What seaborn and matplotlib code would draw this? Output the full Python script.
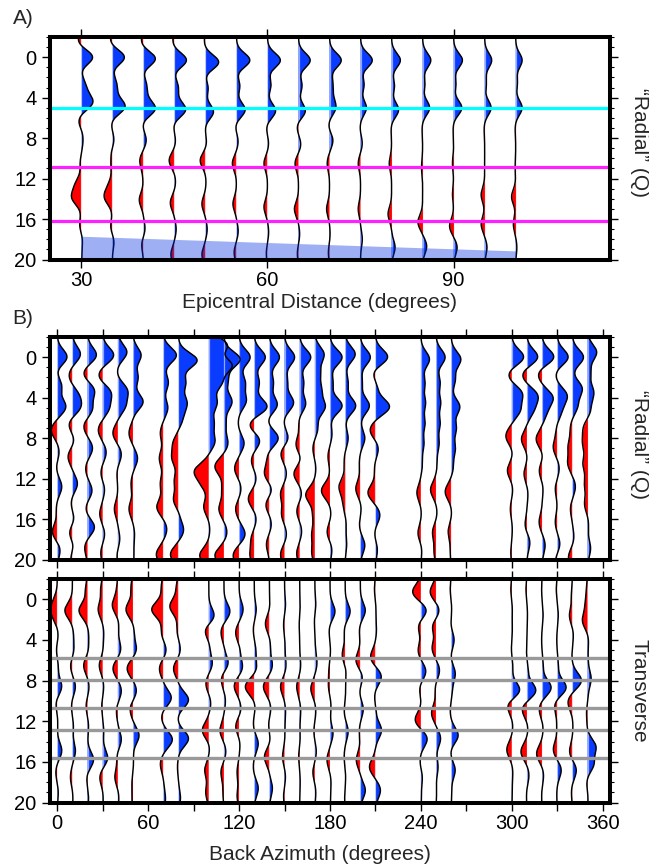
import numpy as np
import pandas as pd
import matplotlib
matplotlib.use("Agg")
import matplotlib.pyplot as plt
import seaborn as sns
from matplotlib.ticker import MultipleLocator, FixedLocator

sns.set_theme(style="ticks")
plt.rcParams['font.family'] = ['Liberation Sans', 'DejaVu Sans']

# ---------------- data ----------------
# Panel A: epicentral distance gather (pulse lists: (time s, relative amplitude))
A_DIST = [30, 35, 40, 45, 50, 55, 60, 65, 70, 75, 80, 85, 90, 95, 100]
A_PULSES = [
    [(-1.6,-0.3),(0,1.0),(1.3,-0.1),(2.4,0.2),(3.4,0.3),(4.5,0.9),(6.3,-0.25),(7.5,0.1),(8.5,0.1),(10.5,-0.1),(12.6,-0.45),(13.9,-0.75),(16.6,-0.15),(18.0,0.1),(19.5,0.05)],
    [(-1.6,-0.2),(0,1.05),(1.3,-0.05),(2.5,0.3),(3.6,0.25),(4.9,1.05),(6.5,-0.1),(8.2,0.15),(9.5,-0.1),(10.8,-0.1),(12.8,-0.3),(13.9,-0.6),(16.8,-0.15),(18.2,0.15)],
    [(-1.5,-0.2),(0.15,1.05),(1.5,-0.1),(2.6,0.25),(3.8,0.2),(5.1,1.0),(6.5,-0.1),(8.2,0.25),(10.2,-0.3),(11.5,-0.05),(14.1,-0.35),(17,0.15),(18.5,-0.15)],
    [(-1.5,-0.15),(0.3,1.05),(1.6,-0.1),(2.8,0.3),(3.9,0.15),(5.2,0.95),(6.6,-0.1),(8.3,0.1),(10.2,-0.45),(12.3,0.1),(14.4,-0.35),(17,0.15),(19.5,-0.3)],
    [(-1.5,-0.1),(0.5,1.15),(1.8,-0.1),(3.0,0.25),(5.4,0.7),(6.6,-0.05),(8.5,0.1),(10.2,-0.45),(12.3,0.05),(14.5,-0.3),(17,0.15),(19.5,-0.3)],
    [(0.3,1.15),(1.7,-0.05),(2.8,0.3),(5.2,0.75),(6.8,-0.1),(8.3,0.15),(10.5,-0.35),(14.5,-0.3),(17.2,0.15),(19.3,-0.2)],
    [(0.3,1.1),(2.7,0.3),(5.3,0.7),(6.9,-0.1),(8.5,0.1),(10.5,-0.3),(14.8,-0.3),(17.3,0.1),(19.4,-0.1)],
    [(0.3,1.0),(2.8,0.3),(5.3,0.6),(6.8,-0.15),(8.6,0.2),(10.5,-0.3),(15.0,-0.35),(17.5,0.1),(19.4,-0.1)],
    [(0.3,1.0),(2.5,0.25),(3.8,0.2),(5.0,0.5),(6.8,-0.1),(8.2,0.3),(10.5,-0.2),(15.0,-0.25),(17.5,0.05),(19.3,-0.1)],
    [(0.3,1.0),(2.7,0.3),(5.0,0.5),(7,-0.05),(8.5,0.15),(10.5,-0.2),(15.0,-0.2),(18,0.15)],
    [(0.3,0.75),(2.8,0.25),(5.2,0.6),(7,-0.05),(10.5,-0.2),(15.5,-0.3),(18.8,0.3)],
    [(0.3,0.7),(2.6,0.2),(5.0,0.6),(7,-0.05),(10.8,-0.1),(16.3,-0.4),(18.7,0.35)],
    [(0.3,0.75),(2.6,0.2),(5.0,0.7),(7,-0.05),(10.5,-0.1),(13.5,-0.1),(16.7,-0.35),(18.8,0.3)],
    [(0.3,0.6),(2.5,0.15),(5.0,0.55),(7,-0.05),(13.6,-0.3),(16.5,-0.3),(18.8,0.2)],
    [(0.3,0.55),(2.5,0.15),(5.0,0.55),(7,-0.05),(10.8,-0.05),(13.8,-0.35),(16.5,-0.2),(18.8,0.1)],
]
A_CYAN = [5.0]
A_MAGENTA = [10.86, 16.2]
A_SHADE_X = [30, 100]
A_SHADE_TOP = [17.7, 19.15]
A_XTICKS = [30, 60, 90]

# Panel B: back-azimuth gathers
B_BAZ = [0, 10, 20, 30, 40, 50, 70, 80, 100, 110, 120, 130, 140, 150, 160, 170,
         180, 190, 200, 210, 240, 250, 260, 300, 310, 320, 330, 340, 350]
RADIAL_PULSES = [
    [(0,1.0),(1.3,-0.15),(2.8,0.45),(4.9,0.85),(7.2,-0.6),(9.4,0.2),(10.8,-0.1),(12.8,0.45),(15,-0.1),(17.3,-0.5),(19,0.3)],
    [(-0.3,0.8),(1.8,-0.35),(3.8,0.55),(5.0,0.7),(6.6,-0.4),(8.2,0.2),(9.8,-0.45),(12.5,0.5),(14.5,-0.15),(16,0.2),(17.4,-0.35),(18.6,0.2),(19.7,-0.2)],
    [(-0.2,0.9),(1.6,-0.45),(3.3,0.7),(5.1,0.5),(6.8,-0.4),(9.0,0.5),(11,-0.2),(13.2,0.45),(15,-0.2),(16.8,0.7),(18.8,-0.3)],
    [(-0.2,1.1),(1.8,-0.45),(3.5,0.8),(5.0,0.6),(7.2,-0.45),(9.4,0.35),(11.5,-0.2),(13,0.2),(15.5,-0.3),(17.5,0.2),(19.3,-0.2)],
    [(-0.5,0.9),(1.5,-0.1),(3.3,0.9),(4.8,0.7),(7.5,-0.5),(9.6,0.35),(11.5,-0.1),(15,-0.35),(18,0.2),(19.5,-0.1)],
    [(-0.2,0.8),(2.0,0.5),(4.4,1.0),(7.5,-0.4),(10,0.45),(12.5,-0.2),(15,-0.4),(17.5,0.15),(19.5,0.1)],
    [(-0.2,1.3),(2.5,0.5),(5,0.45),(7.5,-0.3),(10,-0.4),(12.5,-0.3),(14.8,-0.65),(17,0.35),(19.5,-0.7)],
    [(0.3,1.85),(2.5,0.7),(4.5,0.8),(6,0.4),(8.5,-0.5),(10,-0.6),(12.2,-0.4),(14.1,-0.5),(15.5,0.1),(17.1,0.5),(19.5,-0.8)],
    [(-1.2,1.8),(0.8,2.2),(2.5,1.2),(4.5,0.8),(6.5,0.5),(8.3,0.6),(11.2,-1.3),(12.5,-0.6),(14.8,-0.5),(17,0.1),(19.6,-0.9)],
    [(0.2,1.6),(2.2,0.4),(4.4,0.8),(6.5,0.2),(8.5,0.4),(10.8,-0.9),(13,-0.2),(15,-0.5),(17.3,0.3),(19.6,-0.9)],
    [(0,1.1),(2.5,0.6),(4.3,0.7),(6.5,-0.1),(8.5,0.5),(11,-0.45),(13,0.2),(15,-0.35),(17.5,0.6),(19.6,-0.6)],
    [(0,1.1),(2.5,0.5),(4.9,1.3),(6.7,-0.55),(8.2,0.6),(10.2,-0.3),(12,0.2),(14,-0.6),(16,0.2),(18,-0.3),(19.6,-0.4)],
    [(0,1.0),(2.5,0.4),(4.7,0.8),(6.3,-0.2),(8,0.9),(9.8,-0.2),(11.5,-0.5),(13.2,0.3),(14.5,-0.4),(16.5,0.2),(18.5,-0.3)],
    [(0,1.0),(2.4,0.3),(4.5,0.9),(6.5,-0.1),(8,0.4),(9.5,-0.4),(11.5,0.2),(13.5,-0.4),(15.5,-0.3),(17.5,0.2),(19.5,-0.4)],
    [(0,1.1),(2.5,0.4),(4.6,0.6),(6.3,-0.1),(8.7,-0.4),(10,0.2),(11.5,-0.6),(13.5,0.2),(15.2,-0.3),(17.2,0.2),(19.4,-0.3)],
    [(-0.3,0.9),(1.5,0.5),(3.2,0.6),(4.9,1.0),(7,0.3),(9,-0.2),(11,0.1),(13.6,-0.9),(15.5,-0.2),(17.5,-0.3),(19.3,-0.3)],
    [(0,1.2),(2.5,0.3),(4.8,1.2),(7.6,0.2),(9.8,-0.2),(13.2,-0.85),(15.5,0.1),(17.3,-0.3),(19,0.2)],
    [(-0.3,1.0),(2.5,0.3),(4.8,1.05),(8,0.3),(10.3,-0.1),(12.8,-0.6),(14.5,-0.2),(16.5,0.1),(18.5,0.15)],
    [(0,1.0),(2.5,0.2),(4.8,0.9),(8,0.45),(10.5,-0.1),(13,-0.45),(15,0.1),(16.5,-0.1),(18.6,0.45)],
    [(0,1.25),(1.5,-0.3),(3,0.2),(4.9,1.4),(7.2,-0.55),(9,0.3),(11,-0.1),(13.4,-0.75),(15.6,0.45),(17.5,-0.1),(19,0.2)],
    [(0.2,0.85),(2.5,0.4),(4.5,0.45),(6.5,0.4),(8.5,0.3),(10.5,0.15),(13.4,-0.4),(15.5,0.05),(17.4,-0.3),(19,0.1)],
    [(0,0.9),(2.5,0.4),(4.5,0.45),(6.5,0.4),(8.5,0.3),(10.5,0.1),(13.1,-0.55),(15.4,0.1),(17.3,-0.35),(19.2,-0.2)],
    [(0.2,0.95),(2.2,0.4),(4.9,0.85),(7,0.5),(9,0.4),(10.8,0.2),(13.3,-0.6),(15.5,0.05),(17.2,-0.3),(19.2,-0.1)],
    [(0,1.2),(1.7,-0.4),(3.6,1.0),(5.2,0.8),(7.8,-0.6),(9.5,0.1),(11.2,-0.45),(13,0.1),(15,-0.15),(17,0.05),(19.3,-0.1)],
    [(0,1.1),(1.7,-0.5),(3.8,1.0),(5.2,0.6),(8.1,-0.55),(10,0.05),(11.5,-0.3),(13.5,0.1),(16.6,-0.2),(18.3,0.3)],
    [(0,1.2),(1.6,-0.45),(4.0,1.05),(5.5,0.4),(8.1,-0.6),(9.8,0.1),(11.2,-0.3),(13,0.1),(16.3,-0.3),(18.6,0.3)],
    [(0,1.1),(1.6,-0.2),(3.8,0.95),(5.3,0.4),(7.2,-0.1),(8.9,-0.4),(11,0.2),(13,-0.2),(16.3,-0.2),(18.6,0.3),(19.8,-0.2)],
    [(0,1.1),(3.1,0.95),(4.8,0.5),(7,-0.2),(8.8,-0.4),(10.5,-0.45),(12.8,0.3),(15,-0.2),(17.8,0.15),(19.8,-0.4)],
    [(-0.5,0.9),(1.5,0.3),(3.5,0.6),(5.2,0.3),(7,-0.4),(8.5,-0.45),(10.5,-0.45),(12.5,-0.3),(14.5,-0.3),(16.5,0.1),(18.9,0.3)],
]
TRANSVERSE_PULSES = [
    [(0.4,-0.4),(1.5,-0.45),(3.5,0.1),(5,-0.1),(6.5,0.1),(8.6,0.45),(10.2,-0.15),(12,0.05),(14.9,0.45),(17,-0.15),(19,0.1)],
    [(1.1,-0.75),(3.5,0.1),(5.0,0.15),(6.5,-0.2),(8.6,0.3),(10.5,-0.1),(12.5,0.1),(14.9,0.3),(17.5,-0.2),(19.5,0.05)],
    [(-1,-0.2),(1.1,-0.85),(3.5,0.1),(5.0,0.1),(6.5,-0.4),(8.6,0.15),(10.5,-0.15),(12.5,0.1),(15.8,0.6),(17.5,-0.1),(19.5,0.1)],
    [(-1,-0.2),(1.0,-0.45),(3.3,0.1),(5,0.05),(6.5,-0.35),(8.6,0.1),(10.5,-0.1),(13,0.1),(15.6,0.5),(17.5,-0.3),(19.5,0.05)],
    [(-1,-0.1),(0.6,-0.55),(2.4,0.1),(4.9,0.3),(6.8,-0.5),(9.0,0.35),(11,-0.15),(13.8,0.35),(15.5,-0.1),(17.5,-0.3),(19.5,0.1)],
    [(-1.2,-0.2),(1.0,-0.7),(3,0.1),(4.9,0.35),(6.8,-0.6),(9.0,0.35),(10.8,-0.3),(13.4,0.6),(16,0.05),(18,-0.1),(19.6,-0.1)],
    [(-1.2,-0.2),(1.0,-1.15),(3.3,-0.2),(5.0,0.3),(6.8,-0.4),(9.7,0.8),(11.5,-0.2),(13.8,0.9),(16.2,-0.3),(18.5,0.05),(19.7,0.2)],
    [(-1.2,-0.2),(0.7,-0.85),(3,-0.15),(5.0,0.2),(6.8,-0.5),(9.9,1.0),(11.7,-0.1),(13.7,1.0),(16.5,-0.1),(19.5,0.2)],
    [(1.7,0.6),(3.0,-0.45),(4.5,0.1),(6.3,0.35),(8.3,-0.3),(10.2,0.2),(12.9,-0.65),(14.5,0.1),(16.8,-0.4),(19,-0.3)],
    [(1.2,0.6),(3.2,-0.3),(6.3,0.45),(7.8,-0.3),(10,0.15),(12.9,-0.4),(15,0.2),(17,-0.3),(19,-0.1)],
    [(1.0,0.4),(3.3,-0.35),(5,0.1),(6.7,0.35),(8.5,-0.5),(10.8,0.2),(12.5,-0.35),(14.2,0.1),(17,-0.2),(19.3,-0.2)],
    [(1.0,0.2),(3.0,-0.1),(5,0.15),(6.7,0.25),(8.6,-0.9),(10.5,0.1),(12.3,-0.1),(14.2,0.4),(16.5,-0.1),(18.6,0.4)],
    [(0.5,0.05),(2.4,-0.4),(4.5,0.1),(6.5,0.3),(8.6,-0.6),(10.8,0.15),(12.3,-0.1),(13.8,0.1),(15.5,-0.5),(18.6,0.3)],
    [(0.5,0.1),(2.5,-0.1),(4.5,0.05),(6.5,0.15),(8.6,-0.4),(11,0.1),(13,0.05),(15.5,-0.2),(17.5,0.1),(19.3,-0.1)],
    [(0.5,0.05),(2.5,-0.05),(6.5,0.1),(8.6,-0.3),(11,0.1),(13.5,0.05),(15.5,-0.1),(18,0.05)],
    [(0.5,0.1),(2,-0.05),(5,0.05),(6.3,0.2),(8.8,-0.4),(11,0.1),(13,-0.1),(15,0.15),(17,-0.2),(19,0.1)],
    [(1.2,0.5),(3,-0.1),(5,0.05),(7,-0.1),(8.5,-0.15),(10.5,0.1),(13.2,0.3),(15.8,-0.3),(18,0.1),(19.7,0.05)],
    [(1.2,0.5),(3,-0.1),(5.5,-0.3),(7,0.1),(9,0.05),(11,-0.1),(13,0.3),(15.5,-0.1),(17.5,0.05),(19.5,-0.05)],
    [(1.1,0.5),(3,-0.1),(6.0,-0.45),(7.7,0.25),(9,-0.1),(10.8,0.3),(13,-0.1),(15.8,-0.4),(18.8,0.5)],
    [(-1,-0.1),(1.0,0.05),(3,0.1),(5.7,-0.5),(7.6,0.6),(9.5,-0.1),(11,0.05),(12.9,0.6),(16.5,-0.6),(18.8,0.5)],
    [(-0.7,-0.85),(1.1,0.6),(2.6,-0.3),(4,0.05),(5.0,-0.3),(7.1,0.5),(8.8,-0.15),(10.2,0.05),(11.9,-0.6),(13.7,0.65),(16,-0.1),(17.5,0.15),(19.5,0.05)],
    [(-0.7,-0.6),(1.1,0.35),(2.7,-0.4),(3.5,0.05),(4.8,-0.4),(7.0,0.35),(8.8,-0.1),(11.2,-0.45),(13.7,0.45),(16.5,0.2),(19,0.05)],
    [(-1,-0.1),(1,0.05),(2.5,-0.05),(4.0,0.3),(5.5,-0.05),(7.3,0.4),(9,0.1),(11,-0.1),(13.4,0.7),(15,-0.1),(16.8,0.4),(19,0.05)],
    [(-1,-0.1),(1,0.05),(3,0.05),(5,-0.05),(6.5,0.1),(9.0,0.85),(10.4,-0.5),(12.5,0.1),(14.8,-0.5),(17,0.1),(19,0.05)],
    [(-1,-0.1),(1.5,0.05),(5,-0.05),(7,0.1),(9.0,0.9),(10.8,-0.5),(12.7,0.1),(15,-0.6),(17.3,0.2),(19.3,-0.05)],
    [(-1,-0.05),(1.5,0.1),(4,-0.05),(6.5,0.1),(8.7,0.9),(10.8,-0.3),(12.7,0.1),(15.2,-0.55),(17.3,0.15),(19.3,-0.05)],
    [(-1,-0.1),(1.5,0.1),(4,-0.05),(6.5,0.1),(8.7,0.9),(10.4,-0.3),(12.5,-0.05),(14.8,-0.4),(16.8,0.4),(19.2,-0.05)],
    [(-0.5,-0.1),(1.6,-0.3),(3.5,0.1),(5.5,-0.05),(8.0,0.9),(10.1,-0.45),(12.5,0.05),(15,-0.3),(16.8,0.4),(19,-0.1)],
    [(-1,-0.1),(0.5,-0.2),(2.1,-0.5),(4,0.1),(6,0.05),(7.8,0.35),(9.5,0.05),(11,-0.1),(12.5,-0.05),(14.5,0.8),(16.2,0.6),(18,-0.1),(19.5,0.05)],
]
T_GRAY = [5.74, 7.98, 10.74, 12.84, 15.6]
B_XTICKS = list(range(0, 361, 30))
B_XLABELS = [str(v) if v % 60 == 0 else "" for v in B_XTICKS]
Y_TICKS = [0, 4, 8, 12, 16, 20]

# ---------------- style ----------------
BLUE = "#0a3cff"
RED = "#ff0000"
T = np.linspace(-2, 20, 881)
W, H = 649, 867
FS = 14.5
FL = 15

def waveform(pulses, sigma):
    w = np.zeros_like(T)
    for t0, a in pulses:
        w += a * np.exp(-0.5 * ((T - t0) / sigma) ** 2)
    return w

def draw_traces(ax, bases, pulses, scale, sigma):
    rows = []
    for b, p in zip(bases, pulses):
        w = waveform(p, sigma) * scale
        ax.fill_betweenx(T, b, b + w, where=w >= 0, interpolate=True, color=BLUE, lw=0, zorder=2)
        ax.fill_betweenx(T, b, b + w, where=w <= 0, interpolate=True, color=RED, lw=0, zorder=2)
        rows.append(pd.DataFrame({"x": b + w, "t": T, "trace": b}))
    # pale seam along each baseline, as in the original rendering
    ax.vlines(bases, -2, 20, color="white", alpha=0.55, lw=0.9, zorder=2.5)
    df = pd.concat(rows, ignore_index=True)
    sns.lineplot(data=df, x="x", y="t", units="trace", estimator=None, sort=False,
                 color="black", lw=1.05, ax=ax, zorder=3, legend=False)

def style_axes(ax, xlim, xticks, xlabels):
    ax.set_xlim(*xlim)
    ax.set_ylim(20, -2)
    ax.set_xlabel("")
    ax.set_ylabel("")
    for s in ax.spines.values():
        s.set_visible(True)
        s.set_linewidth(2.9)
        s.set_color("black")
        s.set_zorder(10)
    ax.yaxis.set_major_locator(FixedLocator(Y_TICKS))
    ax.yaxis.set_minor_locator(MultipleLocator(1))
    ax.set_xticks(xticks)
    ax.set_xticklabels(xlabels)
    ax.tick_params(axis="y", which="both", left=True, right=True, direction="out", colors="black")
    ax.tick_params(axis="y", which="major", length=5.5, width=1.0, labelsize=FS, pad=4.5)
    ax.tick_params(axis="y", which="minor", length=2.8, width=0.8)
    ax.tick_params(axis="x", which="major", bottom=True, top=True, direction="out",
                   length=5.5, width=1.0, labelsize=FS, pad=3, colors="black")
    ax.set_facecolor("white")

fig = plt.figure(figsize=(W / 100, H / 100), dpi=100)
left = 50.3 / W
width = (610 - 50.3) / W
axA = fig.add_axes([left, 1 - 259.5 / H, width, (259.5 - 37) / H])
axR = fig.add_axes([left, 1 - 559.5 / H, width, (559.5 - 337) / H])
axT = fig.add_axes([left, 1 - 802.5 / H, width, (802.5 - 579) / H])

# Panel A
draw_traces(axA, A_DIST, A_PULSES, 1.88, 0.7)
axA.fill_between(A_SHADE_X, A_SHADE_TOP, 20, color="#0030e0", alpha=0.38, lw=0, zorder=4)
for y in A_CYAN:
    axA.axhline(y, color="#00ffff", lw=2.3, zorder=5)
for y in A_MAGENTA:
    axA.axhline(y, color="#ff20ff", lw=2.3, zorder=5)
style_axes(axA, (25.0, 115.2), A_XTICKS, [str(v) for v in A_XTICKS])

# Panel B radial
draw_traces(axR, B_BAZ, RADIAL_PULSES, 6.6, 0.75)
style_axes(axR, (-4.6, 364.8), B_XTICKS, ["" for _ in B_XTICKS])

# Panel B transverse
draw_traces(axT, B_BAZ, TRANSVERSE_PULSES, 6.6, 0.75)
for y in T_GRAY:
    axT.axhline(y, color="#999999", lw=2.4, zorder=5)
style_axes(axT, (-4.6, 364.8), B_XTICKS, B_XLABELS)

# Texts
fig.text(23 / W, 1 - 19 / H, "A)", fontsize=FL, ha="center", va="center")
fig.text(23 / W, 1 - 318 / H, "B)", fontsize=FL, ha="center", va="center")
fig.text(319.5 / W, 1 - 302 / H, "Epicentral Distance (degrees)", fontsize=FL, ha="center", va="center")
fig.text(320 / W, 1 - 854 / H, "Back Azimuth (degrees)", fontsize=FL, ha="center", va="center")
fig.text(639 / W, 1 - 143 / H, "\u201cRadial\u201d (Q)", fontsize=FL, rotation=270, ha="center", va="center")
fig.text(639 / W, 1 - 445 / H, "\u201cRadial\u201d (Q)", fontsize=FL, rotation=270, ha="center", va="center")
fig.text(639 / W, 1 - 691 / H, "Transverse", fontsize=FL, rotation=270, ha="center", va="center")

fig.savefig("out.png", dpi=100, facecolor="white")
